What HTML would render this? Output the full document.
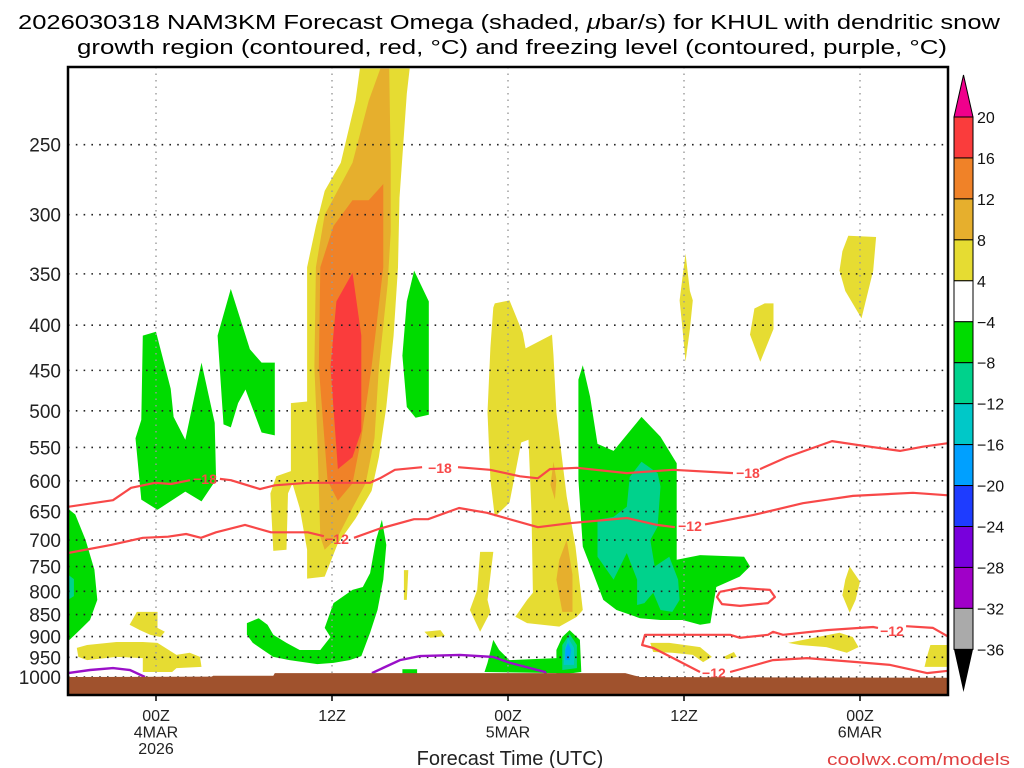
<!DOCTYPE html>
<html><head><meta charset="utf-8"><style>
html,body{margin:0;padding:0;background:#fff;}
svg{display:block;font-family:"Liberation Sans",sans-serif;}
</style></head><body>
<svg id="chart" width="1024" height="768" viewBox="0 0 1024 768" xmlns="http://www.w3.org/2000/svg">
<rect x="0" y="0" width="1024" height="768" fill="#fff"/>
<text x="18" y="29" font-size="20" textLength="982" lengthAdjust="spacingAndGlyphs" fill="#000">2026030318 NAM3KM Forecast Omega (shaded, <tspan font-style="italic">μ</tspan>bar/s) for KHUL with dendritic snow</text>
<text x="77" y="54" font-size="20" textLength="870" lengthAdjust="spacingAndGlyphs" fill="#000">growth region (contoured, red, °C) and freezing level (contoured, purple, °C)</text>
<g id="shade"></g>
<g id="grid"></g>
<g id="contours"></g>
<g id="terrain"></g>
<rect x="68" y="67" width="880" height="628" fill="none" stroke="#000" stroke-width="2.5"/>
<g id="axes"></g>
<g id="cbar"></g>
<text x="510" y="765" font-size="20" text-anchor="middle" fill="#222">Forecast Time (UTC)</text>
<text x="827" y="765" font-size="17" textLength="183" lengthAdjust="spacingAndGlyphs" fill="#e04040">coolwx.com/models</text>
</svg>
<script>
// ---------- axis data ----------
const pressureTicks = [250,300,350,400,450,500,550,600,650,700,750,800,850,900,950,1000];
const timeTickHours = [6,18,30,42,54];
const timeTickLabels = [["00Z","4MAR","2026"],["12Z"],["00Z","5MAR"],["12Z"],["00Z","6MAR"]];
const colorLevels = [20,16,12,8,4,-4,-8,-12,-16,-20,-24,-28,-32,-36];
const colorFills = ["#fa3c3c","#f08228","#e6af2d","#e6dc32","#ffffff","#00dc00","#00d28c","#00c8c8","#00a0ff","#1e3cff","#7800dc","#a000c8","#aaaaaa"];

// ---------- shaded omega regions [hour, pressure] ----------
const greenLeftEdge = [[0,645],[0.5,655],[1.2,700],[1.8,756],[2.0,818],[1.5,862],[0.8,885],[0.1,908],[0,908]];
const tealLeftEdge = [[0,766],[0.4,775],[0.4,810],[0,818]];
const greenLeftTall = [[5.1,411],[6.0,407],[7.0,472],[7.2,508],[8.0,539],[9.1,441],[10.0,516],[10.1,598],[9.1,633],[8.0,617],[6.1,647],[5.0,630],[4.6,537],[5.0,512]];
const greenLeftSecond = [[11.1,364],[12.4,426],[13.2,441],[14.1,441],[14.1,533],[13.2,529],[12.1,473],[11.6,490],[11.1,522],[10.6,518],[10.2,411]];
const yellowPlume = [[19.9,205],[23.3,205],[23.1,219],[22.6,287],[22.5,344],[22.2,411],[21.7,495],[21.2,564],[20.7,616],[19.6,662],[18.4,706],[17.5,770],[16.3,774],[16.3,718],[15.8,644],[15.3,604],[15.0,620],[14.9,718],[14.0,720],[13.8,620],[14.2,593],[15.2,585],[15.2,490],[16.3,488],[16.3,344],[16.9,309],[17.5,282],[18.6,262],[19.6,223]];
const goldPlume = [[21.3,205],[21.9,205],[22.0,262],[22.0,314],[21.8,359],[21.2,446],[20.9,537],[20.3,604],[19.4,644],[18.4,694],[17.5,718],[17.2,694],[17.0,537],[16.8,446],[16.9,344],[17.5,300],[19.4,262],[20.5,223]];
const orangePlume = [[19.4,289],[20.5,289],[21.5,277],[21.5,344],[20.7,446],[20.0,537],[19.4,604],[18.4,632],[17.7,600],[17.1,446],[17.2,344],[18.1,309]];
const redPlume = [[19.4,349],[20.0,411],[20.0,527],[19.4,564],[18.4,582],[17.9,446],[18.3,376]];
const greenRightOfPlume = [[23.6,347],[24.6,376],[24.6,505],[23.7,509],[23.1,495],[22.8,433],[23.1,376]];
const greenLowU = [[12.2,869],[13.0,858],[13.6,873],[14.0,896],[14.9,915],[15.8,932],[17.2,932],[17.9,901],[17.5,880],[18.1,825],[19.4,797],[20.1,791],[20.6,763],[21.0,700],[21.4,664],[21.7,709],[21.5,776],[21.1,840],[20.6,891],[20.0,947],[19.2,957],[18.1,964],[17.0,967],[15.1,957],[14.0,949],[13.3,932],[12.6,915],[12.2,896]];
const yellowSmallA = [[4.7,844],[6.1,844],[6.1,880],[6.6,889],[6.3,901],[5.6,896],[4.9,885],[4.2,873]];
const yellowBandLow = [[0.6,927],[1.3,920],[3.3,913],[5.1,913],[6.1,915],[7.4,944],[8.3,939],[9.0,949],[9.1,974],[7.4,977],[7.1,987],[5.1,987],[5.1,952],[3.3,949],[1.3,957],[0.7,949]];
const yellowColumn = [[29.1,378],[30.1,375],[31.0,408],[31.2,425],[33.0,410],[33.1,433],[33.3,502],[34.0,625],[34.6,712],[35.1,840],[34.7,855],[33.5,877],[31.3,869],[30.5,855],[31.3,818],[31.7,803],[31.6,652],[31.4,539],[30.9,543],[30.1,635],[29.1,659],[28.8,598],[28.6,502],[28.8,424],[29.0,382]];
const goldColumnA = [[33.1,571],[33.3,598],[33.2,630],[32.9,606]];
const goldColumnB = [[34.0,700],[34.4,766],[34.4,844],[33.7,844],[33.3,776],[33.5,737]];
const yellowSmallB = [[28.1,722],[29.0,722],[28.6,818],[28.8,844],[28.1,889],[27.4,840],[27.9,797]];
const yellowSliver = [[22.9,757],[23.2,757],[23.1,818],[22.9,818]];
const yellowDot = [[24.3,889],[25.4,885],[25.7,899],[24.7,903]];
const greenRightBig = [[35.1,444],[35.6,482],[36.1,545],[37.2,555],[39.1,508],[40.4,535],[41.5,573],[41.5,737],[43.1,728],[46.1,731],[46.5,750],[45.8,770],[44.2,791],[43.8,869],[43.1,873],[41.9,862],[40.4,862],[39.0,858],[37.4,840],[36.5,818],[35.8,763],[35.1,712],[34.8,598],[34.8,461]];
const tealRightBig = [[39.1,571],[40.2,588],[40.4,609],[40.2,676],[39.7,700],[40.0,750],[41.0,731],[41.6,776],[41.7,818],[41.2,844],[40.4,840],[39.9,803],[39.3,825],[38.8,829],[38.8,776],[38.1,724],[37.2,776],[36.1,731],[36.1,664],[37.2,659],[38.1,642],[38.3,594]];
const greenSpot = [[34.2,885],[34.9,908],[35.0,987],[33.3,995],[33.3,932],[33.7,901]];
const tealSpot = [[34.2,894],[34.7,920],[34.7,977],[33.7,982],[33.7,920]];
const cyanSpot = [[34.1,903],[34.5,927],[34.5,969],[33.8,969],[33.9,927]];
const blueSpot = [[34.1,915],[34.3,932],[34.2,957],[33.9,957],[33.9,932]];
const greenLowMid = [[29.0,908],[29.4,932],[30.1,957],[33.3,952],[33.5,990],[28.4,987],[28.6,964]];
const greenTiny = [[22.8,980],[23.8,980],[23.8,995],[22.8,995]];
const yellowTopA = [[42.1,332],[42.4,366],[42.6,375],[42.4,404],[42.1,440],[41.9,404],[41.7,375]];
const yellowTopB = [[47.5,378],[48.1,378],[48.1,404],[47.2,440],[46.5,410],[46.8,383]];
const yellowTopC = [[53.2,317],[55.1,318],[54.9,347],[54.1,393],[53.0,366],[52.6,347],[52.8,330]];
const yellowRightMid = [[53.3,750],[54.0,780],[53.7,818],[53.3,846],[52.8,808],[53.0,776]];
const yellowLowA = [[39.7,915],[41.0,915],[43.1,925],[43.9,949],[43.3,962],[42.6,944],[41.2,939],[39.9,937]];
const yellowLowB = [[44.7,949],[45.4,937],[45.6,949],[44.9,955]];
const yellowLowC = [[49.1,915],[52.6,891],[53.5,901],[53.9,925],[53.1,939],[51.7,925],[49.9,920]];
const yellowLowD = [[58.8,920],[60,920],[60,974],[58.4,974],[58.6,944]];

const shadeLayers = [
  [yellowPlume,"#e6dc32","yellow-plume"],[goldPlume,"#e6af2d","gold-plume"],[orangePlume,"#f08228","orange-plume"],[redPlume,"#fa3c3c","red-plume-core"],
  [greenLeftEdge,"#00dc00","green-left-edge"],[tealLeftEdge,"#00d28c","teal-left-edge"],[greenLeftTall,"#00dc00","green-left-tall"],[greenLeftSecond,"#00dc00","green-left-second"],
  [greenRightOfPlume,"#00dc00","green-right-of-plume"],[greenLowU,"#00dc00","green-low-u"],[yellowSmallA,"#e6dc32","yellow-small-a"],[yellowBandLow,"#e6dc32","yellow-band-low"],
  [yellowColumn,"#e6dc32","yellow-column"],[goldColumnA,"#e6af2d","gold-column-a"],[goldColumnB,"#e6af2d","gold-column-b"],[yellowSmallB,"#e6dc32","yellow-small-b"],
  [yellowSliver,"#e6dc32","yellow-sliver"],[yellowDot,"#e6dc32","yellow-dot"],[greenRightBig,"#00dc00","green-right-big"],[tealRightBig,"#00d28c","teal-right-big"],
  [greenSpot,"#00dc00","green-spot"],[tealSpot,"#00d28c","teal-spot"],[cyanSpot,"#00c8c8","cyan-spot"],[blueSpot,"#00a0ff","blue-spot"],
  [greenLowMid,"#00dc00","green-low-mid"],[greenTiny,"#00dc00","green-tiny"],[yellowTopA,"#e6dc32","yellow-top-a"],[yellowTopB,"#e6dc32","yellow-top-b"],
  [yellowTopC,"#e6dc32","yellow-top-c"],[yellowRightMid,"#e6dc32","yellow-right-mid"],[yellowLowA,"#e6dc32","yellow-low-a"],[yellowLowB,"#e6dc32","yellow-low-b"],
  [yellowLowC,"#e6dc32","yellow-low-c"],[yellowLowD,"#e6dc32","yellow-low-d"]
];

// ---------- contours [hour, pressure] ----------
const minus18Seg1 = [[0,642],[3.07,631],[4.30,611],[5.93,603],[7.02,605],[8.32,599]];
const minus18Seg2 = [[10.36,597],[11.11,599],[13.09,613],[14.11,607],[16.36,603],[20.59,603],[21.27,596],[22.29,583],[24.14,579]];
const minus18Seg3 = [[26.59,579],[28.77,583],[30.82,593],[32.04,596],[32.86,582],[34.70,580],[38.11,588],[41.25,583],[45.34,588]];
const minus18Seg4 = [[47.18,582],[49.02,564],[52.09,541],[54.0,547],[56.73,555],[58.29,549],[60,544]];
const minus12Seg1 = [[0,724],[2.93,709],[5.11,696],[6.82,694],[8.05,689],[9.07,696],[10.09,686],[12.07,673],[13.84,686],[16.36,686],[17.45,693]];
const minus12Seg2 = [[19.5,696],[21.2,680],[23.59,663],[24.55,663],[26.66,644],[28.57,652],[32.04,677],[34.23,670],[38.11,661],[40.15,673],[41.38,677]];
const minus12Seg3 = [[43.43,672],[46.70,656],[50.11,636],[53.52,624],[57.61,619],[60,623]];
const minus12Loop = [[44.45,801],[45.82,793],[47.86,797],[48.20,812],[47.73,825],[45.82,831],[44.59,827],[44.25,812],[44.45,801]];
const minus12LowA = [[43.09,987],[41.52,957],[39.89,927],[39.14,920],[39.34,896],[45.14,896],[45.82,903],[47.73,896],[48.07,889],[48.75,896],[51.74,885],[54.89,878],[55.23,880]];
const minus12LowB = [[57.14,876],[58.98,880],[60,900]];
const minus12LowC = [[60,984],[58.57,990],[56.05,969],[53.80,962],[50.39,952],[48.07,957],[45.14,987]];
const freezeSeg1 = [[0,990],[1.5,982],[3.07,977],[4.23,982],[5.25,1000]];
const freezeSeg2 = [[20.72,990],[22.63,957],[24.0,947],[26.73,944],[28.98,949],[30.14,964],[32.52,987],[32.66,1000]];
const contourLabelText = ["−18","−18","−18","−12","−12","−12","−12"];
const contourLabelHours = [9.34,25.36,46.36,18.34,42.41,56.18,44.04];
const contourLabelPressures = [597,580,588,698,675,887,990];

// ---------- terrain ----------
const surfaceHours = [0,9.8,9.9,14,14.1,38,39,60];
const surfaceP = [1000,999,997,997,990,990,1000,1002];

// ---------- scales ----------
const X0=68,X1=948,Y0=67,Y1=695;
function xs(h){return X0 + h*(X1-X0)/60;}
function ys(p){return 677 + 384*Math.log(p/1000);}
const NS="http://www.w3.org/2000/svg";
function mk(tag,parent){const e=document.createElementNS(NS,tag);parent.appendChild(e);return e;}
function pts(arr){return arr.map(d=>xs(d[0]).toFixed(1)+","+ys(d[1]).toFixed(1)).join(" ");}

// clip
const defs = mk("defs",document.getElementById("chart"));
const cp = mk("clipPath",defs); cp.setAttribute("id","plotclip");
const cr = mk("rect",cp); cr.setAttribute("x",X0); cr.setAttribute("y",Y0); cr.setAttribute("width",X1-X0); cr.setAttribute("height",Y1-Y0);

// shading
const shade=document.getElementById("shade");
shade.setAttribute("clip-path","url(#plotclip)");
shadeLayers.forEach(L=>{
  const pg=mk("polygon",shade);
  pg.setAttribute("points",pts(L[0]));
  pg.setAttribute("fill",L[1]);
  
  
});

// grid
const grid=document.getElementById("grid");
pressureTicks.forEach(p=>{
  const l=mk("line",grid);
  l.setAttribute("x1",X0);l.setAttribute("x2",X1);l.setAttribute("y1",ys(p));l.setAttribute("y2",ys(p));
  l.setAttribute("stroke","#222");l.setAttribute("stroke-width","1.6");l.setAttribute("stroke-dasharray","1.6,6.2");
  
  
});
timeTickHours.forEach(h=>{
  const l=mk("line",grid);
  l.setAttribute("x1",xs(h));l.setAttribute("x2",xs(h));l.setAttribute("y1",Y0);l.setAttribute("y2",Y1);
  l.setAttribute("stroke","#999");l.setAttribute("stroke-width","1.4");l.setAttribute("stroke-dasharray","1.5,5");
  
  
});

// contours
const cont=document.getElementById("contours");
cont.setAttribute("clip-path","url(#plotclip)");
[minus18Seg1,minus18Seg2,minus18Seg3,minus18Seg4,minus12Seg1,minus12Seg2,minus12Seg3,minus12Loop,minus12LowA,minus12LowB,minus12LowC].forEach(s=>{
  const pl=mk("polyline",cont);
  pl.setAttribute("points",pts(s));pl.setAttribute("fill","none");pl.setAttribute("stroke","#f84848");pl.setAttribute("stroke-width","2.2");
  pl.setAttribute("stroke-linejoin","round");
  
  
});
[freezeSeg1,freezeSeg2].forEach(s=>{
  const pl=mk("polyline",cont);
  pl.setAttribute("points",pts(s));pl.setAttribute("fill","none");pl.setAttribute("stroke","#9a10c8");pl.setAttribute("stroke-width","2.4");
  
  
});
contourLabelText.forEach((t,i)=>{
  const tx=mk("text",cont);
  tx.setAttribute("x",xs(contourLabelHours[i]));tx.setAttribute("y",ys(contourLabelPressures[i])+5);
  tx.setAttribute("text-anchor","middle");tx.setAttribute("font-size","14");tx.setAttribute("font-weight","bold");tx.setAttribute("fill","#f84848");
  tx.textContent=t;
  
  
});

// terrain
const ter=document.getElementById("terrain");
const tp=mk("polygon",ter);
const tpts=surfaceHours.map((h,i)=>[h,surfaceP[i]]);
tp.setAttribute("points",pts(tpts)+" "+X1+","+Y1+" "+X0+","+Y1);
tp.setAttribute("fill","#a0522d");



// axes labels
const ax=document.getElementById("axes");
pressureTicks.forEach(p=>{
  const t=mk("text",ax);
  t.setAttribute("x",61);t.setAttribute("y",ys(p)+7);t.setAttribute("text-anchor","end");t.setAttribute("font-size","19");t.setAttribute("fill","#222");
  t.textContent=p;
  
  
});
timeTickHours.forEach((h,i)=>{
  const tk=mk("line",ax);
  tk.setAttribute("x1",xs(h));tk.setAttribute("x2",xs(h));tk.setAttribute("y1",Y1);tk.setAttribute("y2",Y1+6);tk.setAttribute("stroke","#000");tk.setAttribute("stroke-width","1.5");
  
  
  timeTickLabels[i].forEach((s,j)=>{
    const t=mk("text",ax);
    t.setAttribute("x",xs(h));t.setAttribute("y",721+j*16.5);t.setAttribute("text-anchor","middle");t.setAttribute("font-size","16");t.setAttribute("fill","#222");
    t.textContent=s;
    
    
  });
});

// colorbar
const cb=document.getElementById("cbar");
const CBX=954,CBW=19,CBT=117,CBH=40.95;
colorFills.forEach((c,i)=>{
  const r=mk("rect",cb);
  r.setAttribute("x",CBX);r.setAttribute("y",CBT+i*CBH);r.setAttribute("width",CBW);r.setAttribute("height",CBH);
  r.setAttribute("fill",c);r.setAttribute("stroke","#000");r.setAttribute("stroke-width","1");
  
  
});
const triTop=mk("polygon",cb);
triTop.setAttribute("points",`${CBX},${CBT} ${CBX+CBW},${CBT} ${CBX+CBW/2},75`);
triTop.setAttribute("fill","#f0008c");triTop.setAttribute("stroke","#000");


const triBot=mk("polygon",cb);
const cbBottom=CBT+colorFills.length*CBH;
triBot.setAttribute("points",`${CBX},${cbBottom} ${CBX+CBW},${cbBottom} ${CBX+CBW/2},692`);
triBot.setAttribute("fill","#000");


colorLevels.forEach((v,i)=>{
  const t=mk("text",cb);
  t.setAttribute("x",977);t.setAttribute("y",CBT+i*CBH+6);t.setAttribute("font-size","16");t.setAttribute("fill","#111");
  t.textContent=(v<0?"−"+(-v):String(v));
  
  
});
</script>
</body></html>
